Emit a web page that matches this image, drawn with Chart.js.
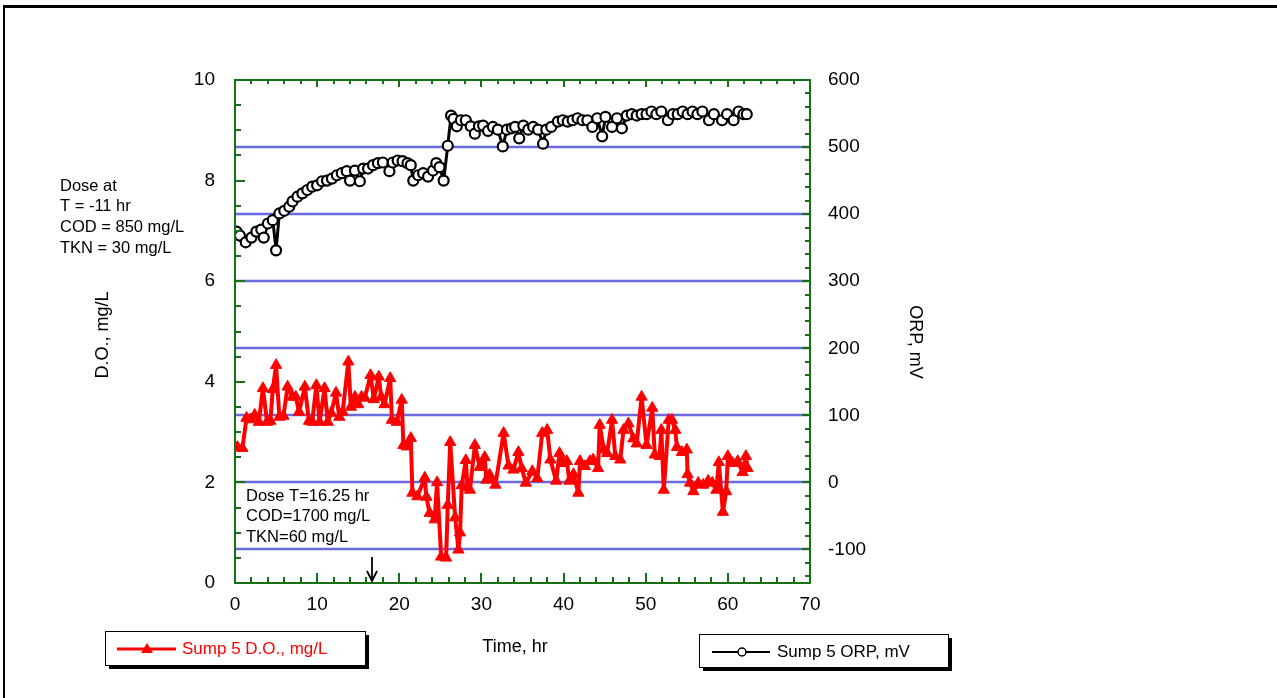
<!DOCTYPE html>
<html>
<head>
<meta charset="utf-8">
<script src="https://cdn.jsdelivr.net/npm/chart.js@4.4.1/dist/chart.umd.min.js"></script>
<style>
  html, body { margin: 0; padding: 0; background: #fff; }
  #wrap { position: relative; width: 1277px; height: 698px; }
</style>
</head>
<body>
<div id="wrap"><canvas id="chart" width="1277" height="698"></canvas></div>
<script>
// Sump 5 dissolved oxygen (mg/L)
const doTimes = [0.3, 0.9, 1.4, 1.9, 2.4, 2.9, 3.4, 3.9, 4.3, 4.6, 5.0, 5.4, 5.9, 6.4, 7.0, 7.4, 7.8, 8.5, 9.0, 9.4,
  9.9, 10.3, 10.9, 11.3, 11.7, 12.3, 12.7, 13.1, 13.8, 14.1, 14.6, 15.0, 15.4, 15.8, 16.5, 16.9, 17.5, 17.8, 18.2, 18.9,
  19.1, 19.7, 20.3, 20.5, 20.9, 21.4, 21.6, 22.2, 23.1, 23.3, 23.7, 24.3, 24.6, 25.1, 25.7, 25.9, 26.2, 26.8, 27.2, 27.4,
  27.6, 28.1, 28.3, 28.6, 29.2, 29.8, 30.0, 30.4, 30.6, 31.0, 31.7, 32.7, 33.3, 33.9, 34.5, 34.9, 35.4, 36.2, 36.8, 37.4,
  38.0, 38.4, 39.1, 39.5, 40.0, 40.4, 40.7, 41.2, 41.8, 42.0, 42.6, 43.2, 43.6, 44.2, 44.4, 44.9, 45.3, 45.9, 46.3, 46.9,
  47.3, 47.9, 48.5, 48.9, 49.5, 50.1, 50.8, 51.1, 51.7, 51.9, 52.2, 52.8, 53.2, 53.6, 53.8, 54.4, 55.0, 55.1, 55.4, 55.8,
  56.4, 57.0, 57.6, 58.1, 58.6, 58.9, 59.4, 59.8, 60.0, 60.6, 61.2, 61.8, 62.2, 62.4];
const doValues = [2.70, 2.68, 3.28, 3.25, 3.34, 3.20, 3.87, 3.20, 3.22, 3.85, 4.33, 3.30, 3.32, 3.90, 3.70, 3.70, 3.40, 3.90, 3.22, 3.20,
  3.93, 3.20, 3.87, 3.20, 3.38, 3.78, 3.30, 3.40, 4.40, 3.50, 3.70, 3.55, 3.70, 3.68, 4.13, 3.65, 4.10, 3.70, 3.55, 4.07,
  3.24, 3.20, 3.64, 2.74, 2.71, 2.88, 1.79, 1.72, 2.09, 1.71, 1.39, 1.26, 2.00, 0.52, 0.50, 1.55, 2.80, 1.30, 0.66, 1.00,
  1.94, 2.44, 1.90, 1.85, 2.74, 2.30, 2.35, 2.50, 2.05, 2.15, 1.95, 2.98, 2.33, 2.25, 2.60, 2.28, 1.99, 2.22, 2.08, 2.98,
  3.04, 2.45, 2.03, 2.58, 2.38, 2.42, 2.03, 2.16, 1.79, 2.42, 2.32, 2.42, 2.45, 2.28, 3.14, 2.65, 2.58, 3.24, 2.52, 2.45,
  3.04, 3.17, 2.87, 2.77, 3.70, 2.74, 3.48, 2.55, 2.52, 3.04, 1.85, 3.24, 3.24, 3.04, 2.70, 2.60, 2.65, 2.16, 1.99, 1.82,
  1.99, 1.95, 2.03, 1.99, 1.85, 2.40, 1.41, 1.82, 2.52, 2.38, 2.42, 2.20, 2.52, 2.28];

// Sump 5 ORP (mV)
const orpTimes = [0.2, 0.6, 1.3, 2.0, 2.6, 3.2, 3.5, 4.0, 4.6, 5.0, 5.4, 6.0, 6.6, 7.0, 7.6, 8.2, 8.8, 9.4, 10.0, 10.6,
  11.2, 11.8, 12.4, 13.0, 13.6, 14.0, 14.6, 15.2, 15.6, 16.2, 16.8, 17.4, 18.0, 18.8, 19.2, 19.8, 20.4, 21.0, 21.4, 21.7,
  22.3, 22.9, 23.5, 24.1, 24.5, 24.9, 25.4, 25.9, 26.3, 26.6, 27.0, 27.5, 28.1, 28.7, 29.2, 29.7, 30.2, 30.8, 31.4, 32.0,
  32.6, 33.1, 33.7, 34.1, 34.6, 35.1, 35.7, 36.3, 36.9, 37.5, 37.9, 38.5, 39.3, 39.9, 40.5, 41.1, 41.7, 42.3, 42.9, 43.5,
  44.1, 44.7, 45.1, 45.9, 46.5, 47.1, 47.7, 48.3, 48.9, 49.5, 50.1, 50.7, 51.3, 51.9, 52.7, 53.3, 53.9, 54.5, 55.1, 55.7,
  56.3, 56.9, 57.7, 58.3, 59.3, 59.9, 60.7, 61.3, 61.9, 62.3];
const orpValues = [374, 368, 358, 365, 374, 377, 365, 386, 391, 346, 401, 405, 411, 419, 426, 431, 436, 441, 443, 449,
  450, 453, 458, 461, 464, 450, 465, 449, 468, 468, 473, 476, 477, 464, 477, 480, 479, 476, 473, 450,
  458, 461, 456, 465, 476, 470, 450, 502, 547, 542, 531, 540, 540, 531, 520, 531, 532, 524, 530, 526,
  501, 526, 528, 530, 513, 532, 526, 530, 526, 505, 526, 530, 538, 540, 538, 540, 543, 540, 540, 530,
  543, 516, 545, 530, 543, 528, 547, 549, 547, 549, 549, 553, 549, 553, 540, 549, 549, 553, 549, 553,
  549, 553, 540, 549, 540, 549, 540, 553, 549, 549];

const xTicks = [0, 10, 20, 30, 40, 50, 60, 70];
const leftTicks = [0, 2, 4, 6, 8, 10];
const rightTicks = [-100, 0, 100, 200, 300, 400, 500, 600];
const gridLevels = [-100, 0, 100, 200, 300, 400, 500];
const doseNote1 = ["Dose at", "T = -11 hr", "COD = 850 mg/L", "TKN = 30 mg/L"];
const doseNote2 = ["Dose T=16.25 hr", "COD=1700 mg/L", "TKN=60 mg/L"];
const doseArrowTime = 16.7;

const FONT = '"Liberation Sans", Arial, sans-serif';
const GREEN = "#167016";
const RED = "#ff0000";

function seg(ctx, x1, y1, x2, y2) {
  ctx.beginPath();
  ctx.moveTo(x1, y1);
  ctx.lineTo(x2, y2);
  ctx.stroke();
}

function legendBox(ctx, x, y, w, h) {
  ctx.fillStyle = "#000";
  ctx.fillRect(x + 4, y + 4, w, h);
  ctx.fillStyle = "#fff";
  ctx.fillRect(x, y, w, h);
  ctx.strokeStyle = "#000";
  ctx.lineWidth = 1;
  ctx.strokeRect(x + 0.5, y + 0.5, w, h);
}

const framePlugin = {
  id: "frame",
  beforeDatasetsDraw(chart) {
    const { ctx, chartArea: a, scales } = chart;
    ctx.save();
    ctx.strokeStyle = "#6a6ae0";
    ctx.lineWidth = 2.5;
    gridLevels.forEach((v) => {
      const y = Math.round(scales.y1.getPixelForValue(v));
      seg(ctx, a.left, y, a.right, y);
    });
    ctx.restore();
  },
  afterDatasetsDraw(chart) {
    const { ctx, chartArea: a, scales } = chart;
    const sx = scales.x, sy = scales.y, sr = scales.y1;
    ctx.save();

    // axis box and tick marks
    ctx.strokeStyle = GREEN;
    ctx.lineWidth = 2;
    ctx.strokeRect(a.left, a.top, a.right - a.left, a.bottom - a.top);
    for (let t = 0; t <= 70; t += 2) {
      const x = Math.round(sx.getPixelForValue(t));
      const major = t % 10 === 0;
      seg(ctx, x, a.bottom, x, a.bottom - (major ? 10 : 6));
      seg(ctx, x, a.top, x, a.top + (major ? 7 : 4));
    }
    for (let v = 0; v <= 10; v += 0.5) {
      const y = Math.round(sy.getPixelForValue(v));
      const major = v % 2 === 0;
      seg(ctx, a.left, y, a.left + (major ? 10 : 6), y);
    }
    for (let v = -140; v <= 600; v += 20) {
      const y = Math.round(sr.getPixelForValue(v));
      const major = v % 100 === 0;
      seg(ctx, a.right, y, a.right - (major ? 8 : 5), y);
    }

    // tick labels
    ctx.fillStyle = "#000";
    ctx.font = "19px " + FONT;
    ctx.textBaseline = "middle";
    ctx.textAlign = "right";
    leftTicks.forEach((v) => ctx.fillText(String(v), a.left - 20, sy.getPixelForValue(v)));
    ctx.textAlign = "left";
    rightTicks.forEach((v) => ctx.fillText(String(v), a.right + 18, sr.getPixelForValue(v)));
    ctx.textAlign = "center";
    xTicks.forEach((v) => ctx.fillText(String(v), sx.getPixelForValue(v), a.bottom + 22));

    // axis titles
    ctx.font = "18px " + FONT;
    ctx.fillText("Time, hr", 515, 647);
    ctx.save();
    ctx.translate(103, 335);
    ctx.rotate(-Math.PI / 2);
    ctx.fillText("D.O., mg/L", 0, 0);
    ctx.restore();
    ctx.save();
    ctx.translate(915, 342);
    ctx.rotate(Math.PI / 2);
    ctx.fillText("ORP, mV", 0, 0);
    ctx.restore();

    // dose notes
    ctx.font = "16.5px " + FONT;
    ctx.textAlign = "left";
    doseNote1.forEach((s, i) => ctx.fillText(s, 60, 186 + i * 20.7));
    doseNote2.forEach((s, i) => ctx.fillText(s, 246, 496 + i * 20.5));

    // dose arrow
    const ax = Math.round(sx.getPixelForValue(doseArrowTime));
    ctx.strokeStyle = "#000";
    ctx.lineWidth = 1.8;
    seg(ctx, ax, 557, ax, 580);
    ctx.beginPath();
    ctx.moveTo(ax - 5, 571);
    ctx.lineTo(ax, 581);
    ctx.lineTo(ax + 5, 571);
    ctx.stroke();

    // legends
    ctx.font = "17px " + FONT;
    legendBox(ctx, 105, 631, 260, 34);
    ctx.strokeStyle = RED;
    ctx.lineWidth = 3;
    seg(ctx, 117, 649, 176, 649);
    ctx.fillStyle = RED;
    ctx.beginPath();
    ctx.moveTo(147, 643);
    ctx.lineTo(153, 653);
    ctx.lineTo(141, 653);
    ctx.closePath();
    ctx.fill();
    ctx.fillText("Sump 5 D.O., mg/L", 182, 649);

    legendBox(ctx, 699, 634, 249, 33);
    ctx.strokeStyle = "#000";
    ctx.lineWidth = 2;
    seg(ctx, 712, 652, 770, 652);
    ctx.fillStyle = "#fff";
    ctx.lineWidth = 1.5;
    ctx.beginPath();
    ctx.arc(742, 652, 4, 0, Math.PI * 2);
    ctx.fill();
    ctx.stroke();
    ctx.fillStyle = "#000";
    ctx.fillText("Sump 5 ORP, mV", 777, 652);

    // outer frame
    ctx.strokeStyle = "#000";
    ctx.lineWidth = 3;
    seg(ctx, 3, 6.5, 1277, 6.5);
    ctx.lineWidth = 2;
    seg(ctx, 4, 5, 4, 698);
    ctx.restore();
  }
};

new Chart(document.getElementById("chart").getContext("2d"), {
  type: "line",
  data: {
    datasets: [
      {
        label: "Sump 5 D.O., mg/L",
        data: doTimes.map((t, i) => ({ x: t, y: doValues[i] })),
        yAxisID: "y",
        borderColor: RED,
        borderWidth: 4,
        borderJoinStyle: "round",
        pointStyle: "triangle",
        pointRadius: 6.5,
        pointBackgroundColor: RED,
        pointBorderColor: RED,
        pointBorderWidth: 1,
        tension: 0,
      },
      {
        label: "Sump 5 ORP, mV",
        data: orpTimes.map((t, i) => ({ x: t, y: orpValues[i] })),
        yAxisID: "y1",
        borderColor: "#000",
        borderWidth: 3,
        borderJoinStyle: "round",
        pointStyle: "circle",
        pointRadius: 5,
        pointBackgroundColor: "#fff",
        pointBorderColor: "#000",
        pointBorderWidth: 2.2,
        tension: 0,
      },
    ],
  },
  options: {
    responsive: false,
    animation: false,
    devicePixelRatio: 1,
    events: [],
    layout: { padding: { left: 235, top: 80, right: 467, bottom: 115 } },
    plugins: { legend: { display: false }, tooltip: { enabled: false } },
    scales: {
      x: { type: "linear", min: 0, max: 70, display: false },
      y: { type: "linear", min: 0, max: 10, display: false },
      y1: { type: "linear", min: -150, max: 600, display: false },
    },
  },
  plugins: [framePlugin],
});
</script>
</body>
</html>
